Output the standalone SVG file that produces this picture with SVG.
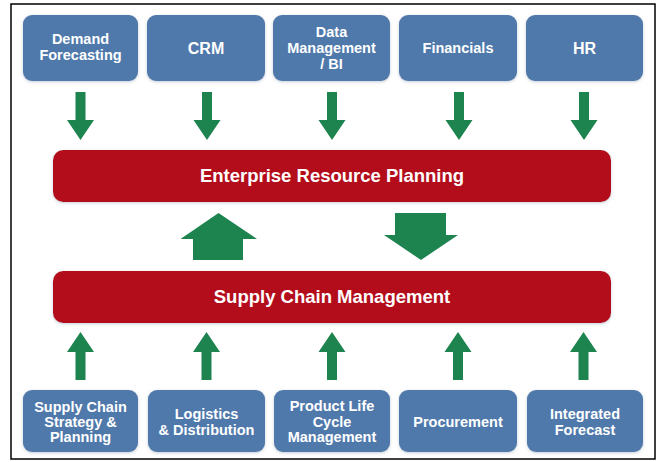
<svg xmlns="http://www.w3.org/2000/svg" width="661" height="462" viewBox="0 0 661 462">
<style>
.box{fill:#4f79ab;filter:url(#sh)}
.bar{fill:#b3111b;filter:url(#sh)}
.arr{fill:#1d8450}
.bt{font-family:"Liberation Sans",Arial,sans-serif;font-weight:bold;font-size:14.5px;fill:#ffffff;text-anchor:middle}
.bt16{font-size:16px}
.big{font-family:"Liberation Sans",Arial,sans-serif;font-weight:bold;font-size:18.5px;fill:#ffffff;text-anchor:middle}
</style>
<defs>
<filter id="sh" x="-10%" y="-20%" width="120%" height="140%">
<feDropShadow dx="0" dy="1" stdDeviation="1.5" flood-color="#8a9bb0" flood-opacity="0.5"/>
</filter>
<path id="sd" d="M-5,0 H5 V28 H13.5 L0,48 L-13.5,28 H-5 Z"/>
<path id="su" d="M-5,48 H5 V20 H13.5 L0,0 L-13.5,20 H-5 Z"/>
</defs>
<rect x="0" y="0" width="661" height="462" fill="#ffffff"/>
<rect x="11" y="4" width="644" height="455" fill="none" stroke="#000000" stroke-width="1.5"/>

<g id="demand-forecasting"><rect class="box" x="23" y="15" width="115" height="66" rx="9"/><text class="bt" x="80.5" y="44">Demand</text><text class="bt" x="80.5" y="60">Forecasting</text></g>
<g id="crm"><rect class="box" x="147" y="15" width="118" height="66" rx="9"/><text class="bt bt16" x="206" y="54">CRM</text></g>
<g id="data-management"><rect class="box" x="273" y="15" width="117" height="66" rx="9"/><text class="bt" x="331.5" y="37">Data</text><text class="bt" x="331.5" y="53">Management</text><text class="bt" x="331.5" y="69">/ BI</text></g>
<g id="financials"><rect class="box" x="399" y="15" width="118" height="66" rx="9"/><text class="bt" x="458" y="53">Financials</text></g>
<g id="hr"><rect class="box" x="526" y="15" width="117" height="66" rx="9"/><text class="bt bt16" x="584.5" y="54">HR</text></g>

<g id="erp"><rect class="bar" x="53" y="150" width="558" height="52" rx="10"/><text class="big" x="332" y="182">Enterprise Resource Planning</text></g>
<g id="scm"><rect class="bar" x="53" y="271" width="558" height="52" rx="10"/><text class="big" x="332" y="303">Supply Chain Management</text></g>

<g id="supply-chain-strategy"><rect class="box" x="23" y="390" width="115" height="62" rx="9"/><text class="bt" x="80.5" y="412">Supply Chain</text><text class="bt" x="80.5" y="427">Strategy &amp;</text><text class="bt" x="80.5" y="442">Planning</text></g>
<g id="logistics"><rect class="box" x="148" y="390" width="117" height="62" rx="9"/><text class="bt" x="206.5" y="419">Logistics</text><text class="bt" x="206.5" y="435">&amp; Distribution</text></g>
<g id="plm"><rect class="box" x="274" y="390" width="116" height="62" rx="9"/><text class="bt" x="332" y="411">Product Life</text><text class="bt" x="332" y="426.5">Cycle</text><text class="bt" x="332" y="442">Management</text></g>
<g id="procurement"><rect class="box" x="399" y="390" width="118" height="62" rx="9"/><text class="bt" x="458" y="427">Procurement</text></g>
<g id="integrated-forecast"><rect class="box" x="527" y="390" width="116" height="62" rx="9"/><text class="bt" x="585" y="419">Integrated</text><text class="bt" x="585" y="435">Forecast</text></g>

<g id="connectors">
<use href="#sd" class="arr" x="80.5" y="92"/>
<use href="#sd" class="arr" x="207" y="92"/>
<use href="#sd" class="arr" x="332" y="92"/>
<use href="#sd" class="arr" x="459" y="92"/>
<use href="#sd" class="arr" x="584" y="92"/>
<path class="arr" d="M193,260 H243 V239 H257 L218.5,213 L180.5,239 H193 Z"/>
<path class="arr" d="M395,213 H446 V235 H458 L421,260 L384,235 H395 Z"/>
<use href="#su" class="arr" x="80.5" y="332"/>
<use href="#su" class="arr" x="206.5" y="332"/>
<use href="#su" class="arr" x="332" y="332"/>
<use href="#su" class="arr" x="458" y="332"/>
<use href="#su" class="arr" x="583.5" y="332"/>
</g>
</svg>
